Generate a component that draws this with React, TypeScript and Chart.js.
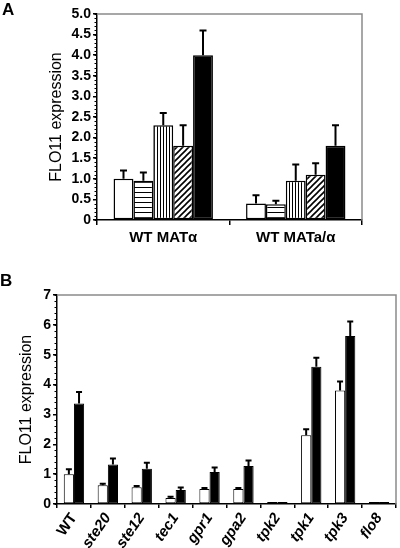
import React, { useEffect, useRef } from 'react';
import { Chart, registerables } from 'chart.js';

Chart.register(...registerables);

const FONT = "'Liberation Sans', Arial, Helvetica, sans-serif";

// ---------- Panel A ----------
const groupsA = ['WT MATα', 'WT MATa/α'];
const namesA = ['Condition 1', 'Condition 2', 'Condition 3', 'Condition 4', 'Condition 5'];
const aOpen = [1.0, 0.4];
const aOpenErr = [0.2, 0.2];
const aHoriz = [0.95, 0.38];
const aHorizErr = [0.2, 0.09];
const aVert = [2.3, 0.95];
const aVertErr = [0.3, 0.4];
const aDiag = [1.8, 1.1];
const aDiagErr = [0.5, 0.28];
const aSolid = [4.0, 1.8];
const aSolidErr = [0.6, 0.5];
const yMaxA = 5;
const yStepA = 0.5;

// ---------- Panel B ----------
const strainsB = ['WT', 'ste20', 'ste12', 'tec1', 'gpr1', 'gpa2', 'tpk2', 'tpk1', 'tpk3', 'flo8'];
const namesB = ['Condition 1', 'Condition 2'];
const bOpen = [1.0, 0.63, 0.56, 0.2, 0.5, 0.5, 0.04, 2.3, 3.8, 0.03];
const bOpenErr = [0.16, 0.05, 0.04, 0.04, 0.04, 0.04, 0, 0.2, 0.3, 0];
const bSolid = [3.37, 1.32, 1.18, 0.47, 1.07, 1.27, 0.04, 4.6, 5.63, 0.03];
const bSolidErr = [0.38, 0.2, 0.2, 0.08, 0.15, 0.19, 0, 0.3, 0.48, 0];
const yMaxB = 7;
const yStepB = 1;

const axisTitle = 'FLO11 expression';

function makePattern(kind: string) {
  const c = document.createElement('canvas');
  const g = c.getContext('2d')!;
  if (kind === 'h') {
    c.width = 8; c.height = 5;
    g.fillStyle = '#fff'; g.fillRect(0, 0, 8, 5);
    g.fillStyle = '#000'; g.fillRect(0, 2, 8, 1);
  } else if (kind === 'v') {
    c.width = 3; c.height = 8;
    g.fillStyle = '#fff'; g.fillRect(0, 0, 3, 8);
    g.fillStyle = '#000'; g.fillRect(1, 0, 1, 8);
  } else {
    c.width = 6; c.height = 6;
    g.fillStyle = '#fff'; g.fillRect(0, 0, 6, 6);
    g.strokeStyle = '#000'; g.lineWidth = 1.6;
    g.beginPath();
    g.moveTo(-1, 7); g.lineTo(7, -1);
    g.moveTo(-1, 1); g.lineTo(1, -1);
    g.moveTo(5, 7); g.lineTo(7, 5);
    g.stroke();
  }
  return g.createPattern(c, 'repeat');
}

const errorBars = {
  id: 'errorBars',
  afterDatasetsDraw(chart: any, _args: any, opts: any) {
    const ctx = chart.ctx;
    const y = chart.scales.y;
    chart.data.datasets.forEach((ds: any, di: number) => {
      const errs = ds.errors;
      if (!errs) return;
      const meta = chart.getDatasetMeta(di);
      meta.data.forEach((bar: any, i: number) => {
        const e = errs[i];
        if (!e) return;
        const top = y.getPixelForValue(ds.data[i] + e);
        ctx.save();
        ctx.strokeStyle = '#000';
        ctx.lineWidth = opts.lineWidth || 1.5;
        ctx.beginPath();
        ctx.moveTo(bar.x, bar.y);
        ctx.lineTo(bar.x, top);
        ctx.moveTo(bar.x - opts.cap / 2, top);
        ctx.lineTo(bar.x + opts.cap / 2, top);
        ctx.stroke();
        ctx.restore();
      });
    });
  },
};

const frame = {
  id: 'frame',
  afterDraw(chart: any, _args: any, opts: any) {
    const { ctx, chartArea: a } = chart;
    ctx.save();
    ctx.strokeStyle = '#8a8a8a';
    ctx.lineWidth = 1.5;
    ctx.beginPath();
    ctx.moveTo(a.left, a.top);
    ctx.lineTo(a.right, a.top);
    ctx.lineTo(a.right, a.bottom);
    ctx.stroke();
    // minor ticks on the y axis
    const s = chart.scales.y;
    ctx.strokeStyle = '#000';
    ctx.lineWidth = 1;
    ctx.beginPath();
    const n = Math.round((s.max - s.min) / opts.minor);
    for (let k = 0; k <= n; k++) {
      const p = Math.round(s.getPixelForValue(s.min + k * opts.minor)) + 0.5;
      ctx.moveTo(s.right, p);
      ctx.lineTo(s.right - 2.5, p);
    }
    ctx.stroke();
    ctx.restore();
  },
};

function baseY(max: number, step: number, width: number, fmt: (v: number) => string) {
  return {
    min: 0,
    max,
    border: { color: '#000', width: 1.5 },
    grid: { drawOnChartArea: false, drawTicks: true, tickLength: 4, color: '#000', lineWidth: 1.5 },
    ticks: {
      stepSize: step,
      autoSkip: false,
      padding: 2,
      color: '#000',
      font: { family: FONT, size: 14, weight: 'bold' },
      callback: (v: any) => fmt(Number(v)),
    },
    title: {
      display: true,
      text: axisTitle,
      color: '#000',
      font: { family: FONT, size: 16 },
      padding: { top: 4, bottom: 4 },
    },
    afterFit: (scale: any) => { scale.width = width; },
  };
}

export default function App() {
  const refA = useRef<HTMLCanvasElement>(null);
  const refB = useRef<HTMLCanvasElement>(null);

  useEffect(() => {
    const pH = makePattern('h');
    const pV = makePattern('v');
    const pD = makePattern('d');
    const bar = (label: string, data: number[], errors: number[], bg: any, bw: number) => ({
      label, data, errors, backgroundColor: bg, borderColor: '#000', borderWidth: bw, borderSkipped: false,
    });

    const chartA = new Chart(refA.current!, {
      type: 'bar',
      data: {
        labels: groupsA,
        datasets: [
          bar(namesA[0], aOpen, aOpenErr, '#fff', 1.5),
          bar(namesA[1], aHoriz, aHorizErr, pH, 1.5),
          bar(namesA[2], aVert, aVertErr, pV, 1.5),
          bar(namesA[3], aDiag, aDiagErr, pD, 1.5),
          bar(namesA[4], aSolid, aSolidErr, '#000', 1.5),
        ] as any,
      },
      options: {
        responsive: false,
        animation: false,
        devicePixelRatio: 1,
        layout: { padding: { left: 43, right: 38, top: 14, bottom: 0 } },
        datasets: { bar: { categoryPercentage: 0.75, barPercentage: 1 } },
        plugins: {
          legend: { display: false },
          tooltip: { enabled: false },
          errorBars: { cap: 7, lineWidth: 2 },
          frame: { minor: 0.1 },
        } as any,
        scales: {
          x: {
            border: { color: '#000', width: 1.5 },
            grid: { drawOnChartArea: false, drawTicks: true, tickLength: 5, color: '#000', lineWidth: 1.5 },
            ticks: {
              maxRotation: 0,
              padding: 4,
              color: '#000',
              font: { family: FONT, size: 15, weight: 'bold' },
            },
            afterFit: (scale: any) => { scale.height = 42; },
          },
          y: baseY(yMaxA, yStepA, 54, (v) => (v === 0 ? '0' : v.toFixed(1))),
        } as any,
      },
      plugins: [errorBars, frame],
    });

    const chartB = new Chart(refB.current!, {
      type: 'bar',
      data: {
        labels: strainsB,
        datasets: [
          bar(namesB[0], bOpen, bOpenErr, '#fff', 1),
          bar(namesB[1], bSolid, bSolidErr, '#000', 1),
        ] as any,
      },
      options: {
        responsive: false,
        animation: false,
        devicePixelRatio: 1,
        layout: { padding: { left: 13, right: 4, top: 30, bottom: 0 } },
        datasets: { bar: { categoryPercentage: 0.6, barPercentage: 1, minBarLength: 2 } },
        plugins: {
          legend: { display: false },
          tooltip: { enabled: false },
          errorBars: { cap: 6, lineWidth: 2 },
          frame: { minor: 0.2 },
        } as any,
        scales: {
          x: {
            border: { color: '#000', width: 1.5 },
            grid: { drawOnChartArea: false, drawTicks: true, tickLength: 4, color: '#000', lineWidth: 1.5 },
            ticks: {
              autoSkip: false,
              minRotation: 55,
              maxRotation: 55,
              padding: 2,
              color: '#000',
              font: (c: any) => ({
                family: FONT,
                size: 15,
                weight: 'bold',
                style: c.index === 0 ? 'normal' : 'italic',
              }),
            },
            afterFit: (scale: any) => { scale.height = 44; },
          },
          y: baseY(yMaxB, yStepB, 44, (v) => String(v)),
        } as any,
      },
      plugins: [errorBars, frame],
    });

    return () => {
      chartA.destroy();
      chartB.destroy();
    };
  }, []);

  const letter: React.CSSProperties = {
    position: 'absolute',
    left: 2,
    fontFamily: FONT,
    fontWeight: 'bold',
    fontSize: 17,
    color: '#000',
  };

  return (
    <div style={{ position: 'absolute', left: 0, top: 0, width: 400, height: 548, background: '#fff', overflow: 'hidden' }}>
      <canvas ref={refA} width={400} height={262} style={{ position: 'absolute', left: 0, top: 0, width: 400, height: 262 }} />
      <canvas ref={refB} width={400} height={283} style={{ position: 'absolute', left: 0, top: 265, width: 400, height: 283 }} />
      <div style={{ ...letter, top: 0 }}>A</div>
      <div style={{ ...letter, top: 271, left: 0 }}>B</div>
    </div>
  );
}
